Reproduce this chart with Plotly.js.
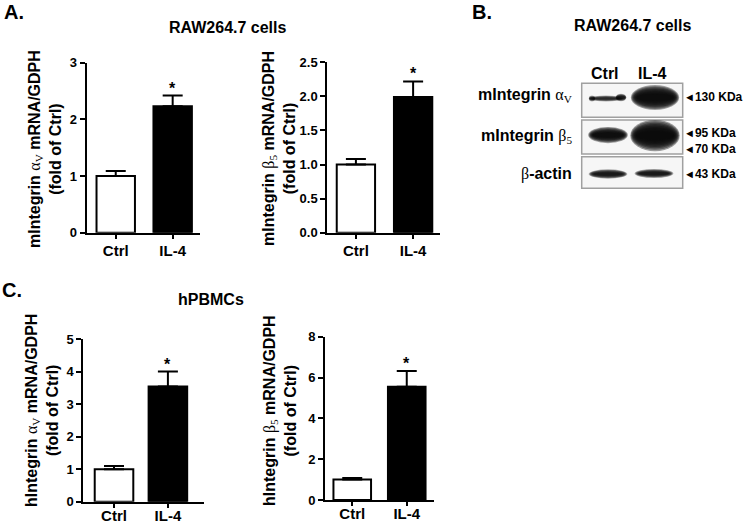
<!DOCTYPE html>
<html>
<head>
<meta charset="utf-8">
<script src="https://cdn.plot.ly/plotly-3.0.1.min.js"></script>
<style>html,body{margin:0;padding:0;background:#fff}#chart{width:745px;height:524px}</style>
</head>
<body>
<div id="chart"></div>
<script>
// ---------- data ----------
const categories = ["Ctrl", "IL-4"];
// Panel A: RAW264.7 cells (mouse)
const mAlphaV = [1.00, 2.23];
const mAlphaVErr = [0.09, 0.19];
const mBeta5 = [1.00, 1.99];
const mBeta5Err = [0.08, 0.23];
// Panel C: hPBMCs (human)
const hAlphaV = [1.00, 3.54];
const hAlphaVErr = [0.10, 0.46];
const hBeta5 = [1.00, 5.55];
const hBeta5Err = [0.08, 0.77];
// tick values
const ticksA1 = [0, 1, 2, 3];
const ticksA2 = [0, 0.5, 1.0, 1.5, 2.0, 2.5];
const ticksC1 = [0, 1, 2, 3, 4, 5];
const ticksC2 = [0, 2, 4, 6, 8];
// Panel B: western blot labels
const blotLanes = ["Ctrl", "IL-4"];
const blotMarkers = ["130 KDa", "95 KDa", "70 KDa", "43 KDa"];

// ---------- helpers ----------
const W = 745, H = 524;
const X = px => px / W;
const Y = py => 1 - py / H;
const FONT = "Liberation Sans, Arial, Helvetica, sans-serif";
const GREEK = s => `<span style="font-family:'Liberation Serif',serif;font-weight:normal">${s}</span>`;
const SUB = s => `<sub><span style="font-family:'Liberation Serif',serif;font-weight:normal">${s}</span></sub>`;

function barTrace(vals, errs, xa, ya, width) {
  return {
    type: "bar", x: [0, 1], y: vals, xaxis: xa, yaxis: ya, width: width,
    marker: {color: ["#ffffff", "#000000"], line: {color: "#000", width: 2}},
    error_y: {type: "data", array: errs, arrayminus: [0, 0], symmetric: false,
              color: "#000", thickness: 2, width: 10},
    hoverinfo: "skip", showlegend: false
  };
}

const traces = [
  barTrace(mAlphaV, mAlphaVErr, "x", "y", 0.675),
  barTrace(mBeta5, mBeta5Err, "x2", "y2", 0.67),
  barTrace(hAlphaV, hAlphaVErr, "x3", "y3", 0.716),
  barTrace(hBeta5, hBeta5Err, "x4", "y4", 0.69)
];

function xAxis(px0, px1, range, anchor, standoff) {
  return {domain: [X(px0), X(px1)], range: range, anchor: anchor,
    tickvals: [0, 1], ticktext: categories, ticks: "outside", ticklen: 4, tickwidth: 2,
    tickcolor: "#000", showline: true, linecolor: "#000", linewidth: 2,
    showgrid: false, zeroline: false, fixedrange: true, ticklabelstandoff: standoff,
    tickfont: {family: FONT, size: 15, color: "#000", weight: "bold"}};
}
function yAxis(py0, py1, range, tickvals, fmt, anchor) {
  return {domain: [Y(py0), Y(py1)], range: range, anchor: anchor,
    tickvals: tickvals, tickformat: fmt, ticks: "outside", ticklen: 5, tickwidth: 2,
    tickcolor: "#000", showline: true, linecolor: "#000", linewidth: 2,
    showgrid: false, zeroline: false, fixedrange: true,
    tickfont: {family: FONT, size: 13, color: "#000", weight: "bold"}};
}

const annotations = [];
function txt(text, px, py, size, xanchor, extra) {
  annotations.push(Object.assign({text: text, x: X(px), y: Y(py), xref: "paper", yref: "paper",
    xanchor: xanchor || "center", yanchor: "middle", showarrow: false,
    font: {family: FONT, size: size, color: "#000", weight: "bold"}}, extra || {}));
}
// panel letters and titles
txt("A.", 2, 12, 20, "left");
txt("B.", 470, 12, 20, "left");
txt("C.", 0, 290, 20, "left");
txt("RAW264.7 cells", 228, 27, 16);
txt("RAW264.7 cells", 633, 25, 16);
txt("hPBMCs", 211, 299, 16);

// y-axis titles (rotated)
const ytitle = (prefix, g, s) => prefix + " " + GREEK(g) + SUB(s) + " mRNA/GDPH<br>(fold of Ctrl)";
txt(ytitle("mIntegrin", "α", "V"), 45, 149, 16, "center", {textangle: -90});
txt(ytitle("mIntegrin", "β", "5"), 279, 149, 16, "center", {textangle: -90});
txt(ytitle("hIntegrin", "α", "V"), 42, 411, 16, "center", {textangle: -90});
txt(ytitle("hIntegrin", "β", "5"), 280, 411, 16, "center", {textangle: -90});

// asterisks
[["x", "y", mAlphaV, mAlphaVErr], ["x2", "y2", mBeta5, mBeta5Err],
 ["x3", "y3", hAlphaV, hAlphaVErr], ["x4", "y4", hBeta5, hBeta5Err]].forEach(([xa, ya, v, e]) => {
  annotations.push({text: "*", x: 1, y: v[1] + e[1], xref: xa, yref: ya, xanchor: "center",
    yanchor: "bottom", yshift: -3, showarrow: false,
    font: {family: FONT, size: 16, color: "#000", weight: "bold"}});
});

// ---------- western blot (panel B) ----------
const shapes = [];
const boxes = [[83.3, 117.3], [120, 154], [156.7, 188.3]];
boxes.forEach(([t, b]) => {
  shapes.push({type: "rect", xref: "paper", yref: "paper", x0: X(581.7), x1: X(682.7),
    y0: Y(b), y1: Y(t), fillcolor: "#f6f6f6", line: {color: "#a0a0a0", width: 1.5}, layer: "below"});
});
function band(cx, cy, rx, ry, strength) {
  const n = 9;
  for (let i = 0; i < n; i++) {
    const k = 1.25 - i * (0.9 / (n - 1));
    const a = Math.min(1, 0.22 * strength);
    shapes.push({type: "circle", xref: "paper", yref: "paper",
      x0: X(cx - rx * (0.7 + 0.3 * k)), x1: X(cx + rx * (0.7 + 0.3 * k)),
      y0: Y(cy + ry * k), y1: Y(cy - ry * k),
      fillcolor: `rgba(10,10,10,${a.toFixed(3)})`, line: {width: 0}});
  }
}
// row 1: integrin alpha V
band(606, 98.5, 16, 2.4, 0.9);
band(621, 97.5, 5, 3.0, 1.1);
band(592, 98.5, 3, 2.4, 0.8);
band(655, 97.5, 22.5, 10, 1.7);
// row 2: integrin beta 5
band(608, 135, 18.5, 6.5, 1.5);
band(655, 135.5, 23, 12.5, 1.8);
// row 3: beta-actin
band(608, 174, 18, 3.8, 1.2);
band(654, 173.5, 18, 3.6, 1.2);

// lane labels
txt(blotLanes[0], 605, 74, 16);
txt(blotLanes[1], 652, 74, 16);
// row labels
txt("mIntegrin " + GREEK("α") + SUB("V"), 574, 96, 16, "right");
txt("mIntegrin " + GREEK("β") + SUB("5"), 574, 136, 16, "right");
txt(GREEK("β") + "-actin", 574, 174, 16, "right");
// size markers
const ARROW = '<span style="font-size:11px">◄</span>';
txt(ARROW + blotMarkers[0], 682, 97, 12, "left");
txt(ARROW + blotMarkers[1], 682, 132.5, 12, "left");
txt(ARROW + blotMarkers[2], 682, 148.5, 12, "left");
txt(ARROW + blotMarkers[3], 682, 174, 12, "left");

const layout = {
  width: W, height: H, margin: {l: 0, r: 0, t: 0, b: 0},
  paper_bgcolor: "#fff", plot_bgcolor: "rgba(0,0,0,0)",
  font: {family: FONT, color: "#000"},
  showlegend: false, bargap: 0,
  xaxis: xAxis(86.7, 200, [-0.51, 1.48], "y", -1),
  yaxis: yAxis(232.7, 62.7, [0, 3], ticksA1, "d", "x"),
  xaxis2: xAxis(327.3, 440, [-0.5, 1.47], "y2", -1),
  yaxis2: yAxis(232.7, 62.3, [0, 2.5], ticksA2, ".1f", "x2"),
  xaxis3: xAxis(83.3, 204, [-0.57, 1.67], "y3", -5),
  yaxis3: yAxis(501.7, 339, [0, 5], ticksC1, "d", "x3"),
  xaxis4: xAxis(325, 434, [-0.5, 1.5], "y4", -5),
  yaxis4: yAxis(500, 336.7, [0, 8], ticksC2, "d", "x4"),
  annotations: annotations,
  shapes: shapes
};

Plotly.newPlot("chart", traces, layout, {displayModeBar: false, staticPlot: true});
</script>
</body>
</html>
